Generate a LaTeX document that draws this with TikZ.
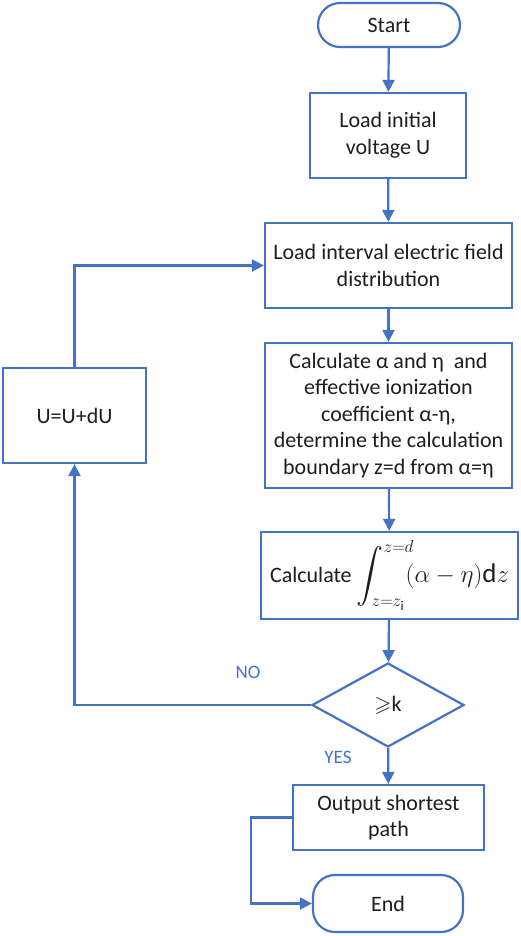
\documentclass[tikz,border=0pt]{standalone}
\usepackage{amssymb}
\usepackage{fontspec}
\setmainfont{Carlito}
\usetikzlibrary{arrows.meta,shapes.geometric}

\definecolor{flowblue}{RGB}{68,114,196}
\definecolor{flowtext}{RGB}{30,30,30}

\tikzset{
	every picture/.style={line width=2.2pt},
	stepbox/.style={draw=flowblue, line width=2.2pt, fill=white, align=center, inner sep=2pt, text=flowtext, font=\fontsize{22}{26.5}\selectfont},
	termbox/.style={stepbox, rounded corners=22pt},
	testbox/.style={draw=flowblue, line width=2.2pt, fill=white, diamond, inner sep=0pt, text=flowtext, font=\fontsize{22}{26.5}\selectfont},
	flow/.style={draw=flowblue, -{Triangle[length=12pt,width=12pt]}},
	answer/.style={text=flowblue, font=\fontsize{19}{21}\selectfont}}

\begin{document}
\begin{tikzpicture}[x=1pt,y=1pt,yscale=-1,xscale=1]
	\useasboundingbox (0,0) rectangle (520,936);

	% Terminal: Start
	\node [termbox, minimum width=142, minimum height=44] (start) at (389,25) {Start};
	% Process: initial voltage
	\node [stepbox, minimum width=156, minimum height=85] (load) at (388,135.5) {Load initial\\voltage U};
	% Process: field distribution
	\node [stepbox, minimum width=247, minimum height=85] (field) at (388.5,265.5) {Load interval electric field\\distribution};
	% Process: coefficients
	\node [stepbox, minimum width=247, minimum height=145] (calc) at (388.5,415.5) {Calculate α and η\ \ and\\effective ionization\\coefficient α-η,\\determine the calculation\\boundary z=d from α=η};
	% Process: integral
	\node [stepbox, minimum width=257, minimum height=87] (integ) at (389.5,575.5) {Calculate {\fontsize{27}{30}\selectfont$\displaystyle\int_{z=z_{\mathrm{i}}}^{z=d}\!\!(\alpha-\eta)\mathrm{d}z$}};
	% Decision
	\node [testbox, minimum width=152, minimum height=84] (dec) at (388,705) {$\geqslant$k};
	% Process: output
	\node [stepbox, minimum width=191, minimum height=65] (out) at (388.5,817.5) {Output shortest\\path};
	% Terminal: End
	\node [termbox, minimum width=150, minimum height=57] (end) at (388,903.5) {End};
	% Process: voltage step
	\node [stepbox, minimum width=143, minimum height=95] (incr) at (74.5,415.5) {U=U+dU};

	% main line
	\draw [flow] (start) -- (load);
	\draw [flow] (load) -- (field);
	\draw [flow] (field) -- (calc);
	\draw [flow] (calc) -- (integ);
	\draw [flow] (integ) -- (dec);
	\draw [flow] (dec) -- (out);
	% loop back
	\draw [flow] (dec.west) -| (incr.south);
	\draw [flow] (incr.north) |- (field.west);
	% output to end
	\draw [flow] (out.west) -- ++(-41,0) |- (end.west);

	% Text Node
	\node [answer] (no) at (248,672) {NO};
	% Text Node
	\node [answer] (yes) at (338,757) {YES};

\end{tikzpicture}
\end{document}
